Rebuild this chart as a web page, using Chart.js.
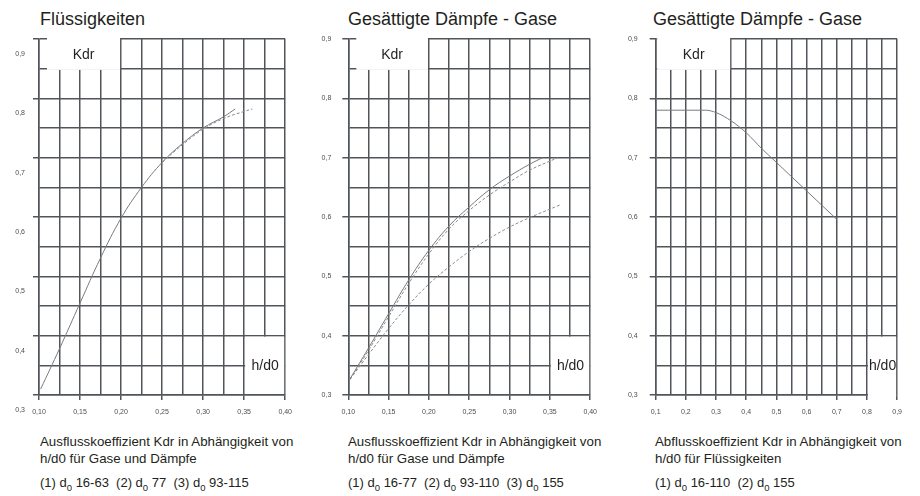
<!DOCTYPE html>
<html>
<head>
<meta charset="utf-8">
<script src="https://cdn.jsdelivr.net/npm/chart.js@4"></script>
<style>
  body { margin: 0; background: #fff; width: 920px; height: 496px; position: relative; overflow: hidden;
         font-family: "Liberation Sans", Arial, sans-serif; color: #231f20; }
  canvas { position: absolute; top: 0; }
  .title { position: absolute; top: 9px; font-size: 18px; white-space: nowrap; }
  .cap { position: absolute; top: 434px; font-size: 13.3px; line-height: 16.6px; white-space: nowrap; }
  .leg { position: absolute; top: 475px; font-size: 13px; white-space: pre; }
  .leg sub { font-size: 9.5px; vertical-align: -4px; line-height: 0; }
</style>
</head>
<body>
<div class="title" style="left:40px">Flüssigkeiten</div>
<div class="title" style="left:348px">Gesättigte Dämpfe - Gase</div>
<div class="title" style="left:653px">Gesättigte Dämpfe - Gase</div>

<canvas id="c1" width="300" height="425" style="left:0px"></canvas>
<canvas id="c2" width="300" height="425" style="left:305px"></canvas>
<canvas id="c3" width="300" height="425" style="left:610px"></canvas>

<div class="cap" style="left:40px">Ausflusskoeffizient Kdr in Abhängigkeit von<br>h/d0 für Gase und Dämpfe</div>
<div class="cap" style="left:348px">Ausflusskoeffizient Kdr in Abhängigkeit von<br>h/d0 für Gase und Dämpfe</div>
<div class="cap" style="left:655px">Abflusskoeffizient Kdr in Abhängigkeit von<br>h/d0 für Flüssigkeiten</div>

<div class="leg" style="left:40px">(1) d<sub>0</sub> 16-63  (2) d<sub>0</sub> 77  (3) d<sub>0</sub> 93-115</div>
<div class="leg" style="left:348px">(1) d<sub>0</sub> 16-77  (2) d<sub>0</sub> 93-110  (3) d<sub>0</sub> 155</div>
<div class="leg" style="left:655px">(1) d<sub>0</sub> 16-110  (2) d<sub>0</sub> 155</div>

<script>
// Flüssigkeiten
var fluesX1 = [0.102, 0.125, 0.15, 0.175, 0.2, 0.225, 0.25, 0.275, 0.3, 0.325, 0.339];
var fluesY1 = [0.31, 0.378, 0.455, 0.531, 0.598, 0.65, 0.692, 0.724, 0.75, 0.769, 0.782];
var fluesX2 = [0.25, 0.275, 0.3, 0.325, 0.35, 0.36];
var fluesY2 = [0.692, 0.722, 0.748, 0.766, 0.778, 0.782];

// Gesättigte Dämpfe - Gase (Ausfluss)
var gasX1 = [0.102, 0.125, 0.15, 0.175, 0.2, 0.225, 0.25, 0.275, 0.3, 0.325, 0.341];
var gasY1 = [0.327, 0.379, 0.437, 0.494, 0.544, 0.585, 0.617, 0.646, 0.669, 0.689, 0.7];
var gasX2 = [0.102, 0.125, 0.15, 0.175, 0.2, 0.225, 0.25, 0.275, 0.3, 0.325, 0.36];
var gasY2 = [0.326, 0.375, 0.432, 0.488, 0.538, 0.58, 0.611, 0.637, 0.659, 0.679, 0.7];
var gasX3 = [0.102, 0.125, 0.15, 0.175, 0.2, 0.225, 0.25, 0.275, 0.3, 0.325, 0.362];
var gasY3 = [0.326, 0.368, 0.412, 0.452, 0.487, 0.516, 0.542, 0.564, 0.583, 0.599, 0.62];

// Abfluss Flüssigkeiten
var abX = [0.1, 0.2, 0.265, 0.3, 0.35, 0.4, 0.45, 0.5, 0.55, 0.6, 0.65, 0.7];
var abY = [0.78, 0.78, 0.78, 0.776, 0.762, 0.742, 0.716, 0.692, 0.668, 0.644, 0.62, 0.596];

// axes: [min, max, grid step, label step, decimals]
var yAxis = [0.3, 0.9, 0.05, 0.1, 1];
var xAxisSmall = [0.10, 0.40, 0.025, 0.05, 2];
var xAxisWide = [0.1, 0.9, 0.05, 0.1, 1];

var gridColor = '#50555a';
var textColor = '#231f20';

function pts(xs, ys) {
    return xs.map(function (x, i) { return { x: x, y: ys[i] }; });
}
function isStep(v, step) {
    var r = v / step;
    return Math.abs(r - Math.round(r)) < 1e-6;
}
function solid(xs, ys) {
    return { data: pts(xs, ys), borderColor: '#7a7a7a', borderWidth: 1, pointRadius: 0, tension: 0.4 };
}
function dashed(xs, ys) {
    return { data: pts(xs, ys), borderColor: '#8c8c8c', borderWidth: 1, borderDash: [3, 2],
             pointRadius: 0, tension: 0.4 };
}

// white cut-outs with "Kdr" and "h/d0"
var boxes = {
    id: 'boxes',
    afterDraw: function (chart, args, o) {
        var c = chart.ctx, x = chart.scales.x, y = chart.scales.y;
        c.save();
        c.fillStyle = '#fff';
        var kx0 = x.left + o.kdrInset, kx1 = x.getPixelForValue(o.kdrEnd) - 1;
        var ky0 = y.getPixelForValue(0.9) - 2, ky1 = y.getPixelForValue(0.85) + 1.2;
        c.fillRect(kx0, ky0, kx1 - kx0, ky1 - ky0);
        var hx0 = x.getPixelForValue(o.hStart) + 1, hx1 = x.right - 1;
        var hy0 = y.getPixelForValue(0.4) + 1, hy1 = y.bottom + (o.cutBottom ? 1.5 : -1);
        c.fillRect(hx0, hy0, hx1 - hx0, hy1 - hy0);
        c.fillStyle = textColor;
        c.font = '14px "Liberation Sans", Arial, sans-serif';
        c.textAlign = 'center';
        c.textBaseline = 'middle';
        c.fillText('Kdr', (kx0 + kx1) / 2, (y.getPixelForValue(0.9) + y.getPixelForValue(0.85)) / 2 + 1);
        c.fillText('h/d0', (hx0 + hx1) / 2 + 0.5, (y.getPixelForValue(0.35) + 1));
        c.restore();
    }
};

function makeChart(id, datasets, xa, o) {
    var ctx = document.getElementById(id).getContext('2d');
    return new Chart(ctx, {
        type: 'line',
        data: { datasets: datasets },
        plugins: [boxes],
        options: {
            responsive: false,
            animation: false,
            devicePixelRatio: 1,
            layout: { padding: { top: 39, right: o.padRight, bottom: 5, left: 0 } },
            plugins: { legend: { display: false }, tooltip: { enabled: false }, boxes: o },
            scales: {
                x: {
                    type: 'linear', min: xa[0], max: xa[1],
                    afterFit: function (s) { s.height = 25; },
                    grid: { color: gridColor, lineWidth: 1.5, tickLength: 5,
                            tickColor: function (c) { return isStep(c.tick.value, xa[3]) ? gridColor : 'rgba(0,0,0,0)'; } },
                    border: { color: gridColor, width: 1.5 },
                    ticks: {
                        stepSize: xa[2], maxTicksLimit: 100, autoSkip: false, maxRotation: 0, padding: 8,
                        color: '#4d4d4d', font: { size: 7, family: '"Liberation Sans", Arial, sans-serif' },
                        callback: function (v) { return isStep(v, xa[3]) ? v.toFixed(xa[4]).replace('.', ',') : ''; }
                    }
                },
                y: {
                    type: 'linear', min: yAxis[0], max: yAxis[1],
                    afterFit: function (s) { s.width = o.yWidth; },
                    grid: { color: gridColor, lineWidth: 1.5, tickLength: 6,
                            tickColor: function (c) { return isStep(c.tick.value, yAxis[3]) ? gridColor : 'rgba(0,0,0,0)'; } },
                    border: { color: gridColor, width: 1.5 },
                    ticks: {
                        stepSize: yAxis[2], maxTicksLimit: 100, autoSkip: false, padding: o.yPad,
                        labelOffset: o.labelOffset,
                        color: '#4d4d4d', font: { size: 7, family: '"Liberation Sans", Arial, sans-serif' },
                        callback: function (v) { return isStep(v, yAxis[3]) ? v.toFixed(yAxis[4]).replace('.', ',') : ''; }
                    }
                }
            }
        }
    });
}

var abLine = solid(abX, abY);
abLine.cubicInterpolationMode = 'monotone';

makeChart('c1', [solid(fluesX1, fluesY1), dashed(fluesX2, fluesY2)], xAxisSmall,
    { yWidth: 39, padRight: 9.5, yPad: 8, labelOffset: 15, kdrInset: 8, kdrEnd: 0.2, hStart: 0.35, cutBottom: false });
makeChart('c2', [solid(gasX1, gasY1), dashed(gasX2, gasY2), dashed(gasX3, gasY3)], xAxisSmall,
    { yWidth: 43.3, padRight: 10.3, yPad: 11, labelOffset: 0, kdrInset: 8, kdrEnd: 0.2, hStart: 0.35, cutBottom: false });
makeChart('c3', [abLine], xAxisWide,
    { yWidth: 45.7, padRight: 9.3, yPad: 12, labelOffset: 0, kdrInset: 1.5, kdrEnd: 0.35, hStart: 0.8, cutBottom: true });
</script>
</body>
</html>
